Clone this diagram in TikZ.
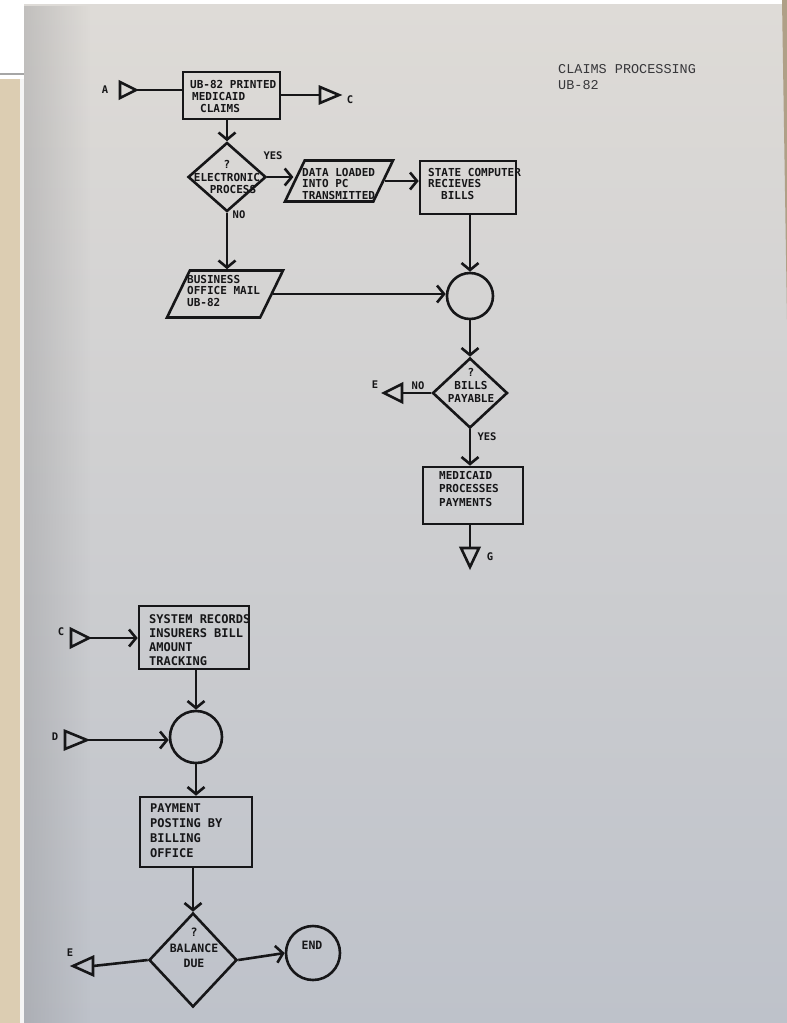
\documentclass[tikz,border=0pt]{standalone}
\usepackage{fontspec}
\usetikzlibrary{arrows.meta,shapes.geometric,fadings}
\newfontfamily\plotfont{DejaVu Sans Mono}[BoldFont={DejaVu Sans Mono Bold}]
\newfontfamily\typefont{Liberation Mono}
\definecolor{ink}{RGB}{22,22,24}
\definecolor{titleink}{RGB}{55,55,58}
\definecolor{pagetop}{RGB}{222,219,215}
\definecolor{pagemid}{RGB}{206,209,214}
\definecolor{pagebot}{RGB}{190,194,202}
\definecolor{vignette}{RGB}{140,140,142}
\definecolor{beige}{RGB}{220,205,178}
\definecolor{edgebrown}{RGB}{175,160,135}
\tikzset{
  ln/.style={draw=ink, line width=2.6pt},
  box/.style 2 args={ln, rectangle, inner sep=0, minimum width=#1, minimum height=#2},
  dia/.style 2 args={ln, diamond, inner sep=0, minimum width=#1, minimum height=#2},
  para/.style n args={4}{ln, trapezium, trapezium stretches=true, inner sep=2pt,
     trapezium left angle=#3, trapezium right angle=#4, minimum width=#1, minimum height=#2},
  circ/.style={ln, circle, inner sep=0, minimum size=#1},
  arr/.style={ln, -{Straight Barb[length=7pt,width=17pt]}},
  tri/.style={ln, line join=miter},
  txt/.style 2 args={font=\plotfont\bfseries\fontsize{#1}{#2}\selectfont, text=ink, align=left, anchor=north west, inner sep=0},
  ctxt/.style 2 args={font=\plotfont\bfseries\fontsize{#1}{#2}\selectfont, text=ink, align=center, anchor=center, inner sep=0},
  lab/.style={font=\plotfont\bfseries\fontsize{10.5}{12}\selectfont, text=ink, inner sep=0},
  ttl/.style={font=\typefont\fontsize{13.5}{16}\selectfont, text=titleink, anchor=west, inner sep=0}
}
\begin{document}
\begin{tikzpicture}[x=1pt,y=-1pt]
\useasboundingbox (0,0) rectangle (787,1023);
% background (photo of page)
\fill[white] (0,0) rectangle (787,1023);
\shade[top color=pagetop, middle color=pagemid, bottom color=pagebot] (24,4) rectangle (787,1023);
\fill[vignette, path fading=east, opacity=0.35] (24,4) rectangle (90,1023);
\fill[edgebrown] (782,0) -- (787,0) -- (787,320) -- cycle;
\fill[white] (0,0) rectangle (24,73);
\draw[gray!70, line width=1.5pt] (0,74) -- (24,74);
\fill[beige] (0,79) rectangle (20,1023);
\fill[white!92!gray] (20,79) rectangle (24,1023);

% title
\node[ttl] (title1) at (558,69) {CLAIMS PROCESSING};
\node[ttl] (title2) at (558,85) {UB-82};

% upper flow
\node[box={97pt}{47pt}] (b1) at (231.5,95.5) {};
\node[dia={78pt}{69pt}] (d1) at (227,177) {};
\node[para={108pt}{41pt}{74}{106}] (p1) at (339,181) {};
\node[box={96pt}{53pt}] (b2) at (468,187.5) {};
\node[para={116pt}{47pt}{72}{108}] (p2) at (225,294) {};
\node[circ=46pt] (c1) at (470,296) {};
\node[dia={75pt}{70pt}] (d2) at (470,393) {};
\node[box={100pt}{57pt}] (b3) at (473,495.5) {};

% off-page connectors (upper)
\draw[tri] (120,82) -- (136,90) -- (120,98) -- cycle;
\coordinate (tA) at (136,90);
\draw[tri] (320,87) -- (339,95) -- (320,103) -- cycle;
\coordinate (tC1) at (320,95);
\draw[tri] (402,384) -- (384,393) -- (402,402) -- cycle;
\coordinate (tE1) at (402,393);
\draw[tri] (461,548) -- (470,567) -- (479,548) -- cycle;
\coordinate (tG) at (470,548);

% lower flow
\node[box={110pt}{63pt}] (b4) at (194,637.5) {};
\node[circ=52pt] (c2) at (196,737) {};
\node[box={112pt}{70pt}] (b5) at (196,832) {};
\node[dia={88pt}{94pt}] (d3) at (193,960) {};
\node[circ=54pt] (c3) at (313,953) {};

\draw[tri] (71,629) -- (89,638) -- (71,647) -- cycle;
\coordinate (tC2) at (89,638);
\draw[tri] (65,731) -- (87,740) -- (65,749) -- cycle;
\coordinate (tD) at (87,740);
\draw[tri] (93,957) -- (73,966) -- (93,975) -- cycle;
\coordinate (tE2) at (93,966);

% connectors
\draw[ln] (tA) -- (tA -| b1.west);
\draw[ln] (b1.east |- tC1) -- (tC1);
\draw[arr] (d1.north |- b1.south) -- (d1.north);
\draw[arr] (d1.east) -- (d1.east -| p1.west);
\draw[arr] (p1.east) -- (p1.east -| b2.west);
\draw[arr] (d1.south) -- (d1.south |- p2.north);
\draw[arr] (p2.east) -- (p2.east -| c1.west);
\draw[arr] (b2.south -| c1.north) -- (c1.north);
\draw[arr] (c1.south) -- (d2.north);
\draw[ln] (d2.west) -- (tE1);
\draw[arr] (d2.south) -- (d2.south |- b3.north);
\draw[ln] (b3.south -| tG) -- (tG);

\draw[arr] (tC2) -- (tC2 -| b4.west);
\draw[arr] (b4.south -| c2.north) -- (c2.north);
\draw[arr] (tD) -- (tD -| c2.west);
\draw[arr] (c2.south) -- (c2.south |- b5.north);
\draw[arr] (b5.south -| d3.north) -- (d3.north);
\draw[ln] (d3.west) -- (tE2);
\draw[arr] (d3.east) -- (c3.west);

% texts in shapes
\node[txt={11}{12}] (t1) at (190,80) {UB-82 PRINTED\\\hspace*{2pt}MEDICAID\\\hspace*{10pt}CLAIMS};
\node[ctxt={11}{12.5}] (td1) at (227,177) {?\\ELECTRONIC\\\hspace*{12pt}PROCESS};
\node[txt={11}{11.5}] (tp1) at (302,168) {DATA LOADED\\INTO PC\\TRANSMITTED};
\node[txt={11}{11.5}] (tb2) at (428,168) {STATE COMPUTER\\RECIEVES\\\hspace*{13pt}BILLS};
\node[txt={11}{11.5}] (tp2) at (187,275) {BUSINESS\\OFFICE MAIL\\UB-82};
\node[ctxt={11}{13}] (td2) at (471,385) {?\\BILLS\\PAYABLE};
\node[txt={11}{13.5}] (tb3) at (439,471) {MEDICAID\\PROCESSES\\PAYMENTS};
\node[txt={12}{14}] (tb4) at (149,614) {SYSTEM RECORDS\\INSURERS BILL\\AMOUNT\\TRACKING};
\node[txt={12}{15}] (tb5) at (150,804) {PAYMENT\\POSTING BY\\BILLING\\OFFICE};
\node[ctxt={11.5}{15.5}] (td3) at (194,948) {?\\BALANCE\\DUE};
\node[ctxt={11.5}{14}] (tend) at (312,945) {END};

% connector labels
\node[lab] (lA) at (105,90) {A};
\node[lab] (lC1) at (350,100) {C};
\node[lab] (lyes1) at (273,156) {YES};
\node[lab] (lno1) at (239,215) {NO};
\node[lab] (lno2) at (418,386) {NO};
\node[lab] (lE1) at (375,385) {E};
\node[lab] (lyes2) at (487,437) {YES};
\node[lab] (lG) at (490,557) {G};
\node[lab] (lC2) at (61,632) {C};
\node[lab] (lD) at (55,737) {D};
\node[lab] (lE2) at (70,953) {E};
\end{tikzpicture}
\end{document}
